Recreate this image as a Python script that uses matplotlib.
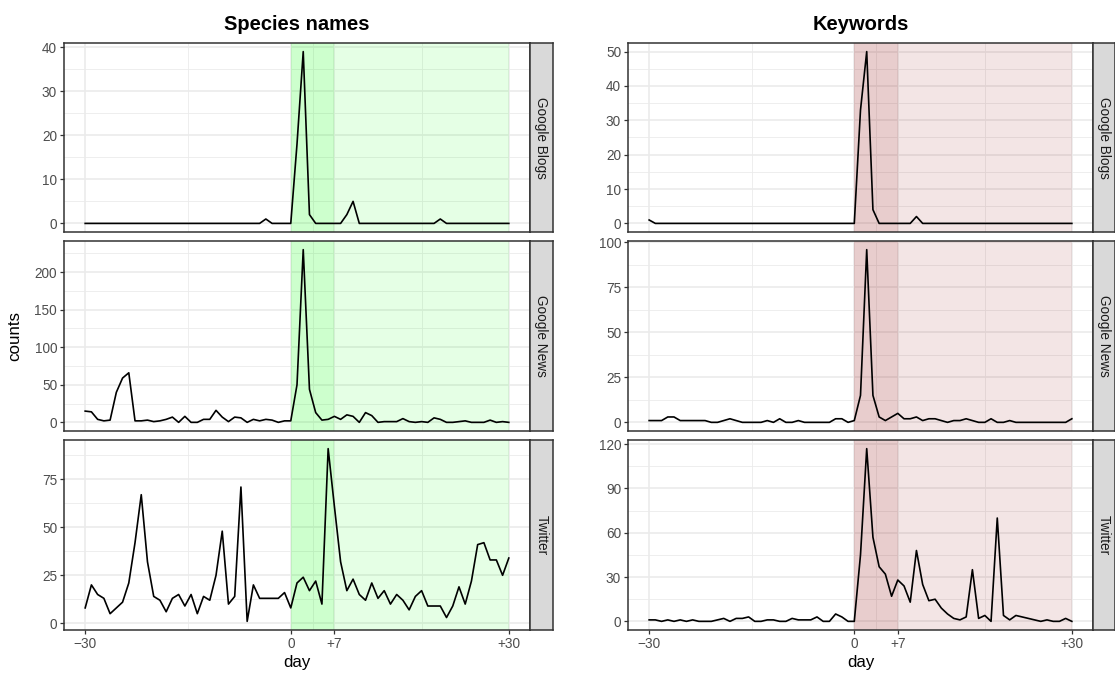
import matplotlib.pyplot as plt
import numpy as np

plt.rcParams['font.family'] = ['Liberation Sans', 'DejaVu Sans']

# daily positions; tick labels follow the original chart
days = list(range(-33, 36))
tick_pos = [-33, 0, 7, 35]
tick_labels = ['\u221230', '0', '+7', '+30']

sources = ['Google Blogs', 'Google News', 'Twitter']

# Species names
sp_blogs = [0, 0, 0, 0, 0, 0, 0, 0, 0, 0,
            0, 0, 0, 0, 0, 0, 0, 0, 0, 0,
            0, 0, 0, 0, 0, 0, 0, 0, 0, 1,
            0, 0, 0, 0, 18, 39, 2, 0, 0, 0,
            0, 0, 2, 5, 0, 0, 0, 0, 0, 0,
            0, 0, 0, 0, 0, 0, 0, 1, 0, 0,
            0, 0, 0, 0, 0, 0, 0, 0, 0]
sp_news = [15, 14, 4, 2, 3, 40, 59, 66, 2, 2,
           3, 1, 2, 4, 7, 0, 8, 0, 0, 4,
           4, 16, 7, 1, 7, 6, 0, 4, 2, 4,
           3, 0, 2, 2, 50, 230, 44, 13, 3, 4,
           8, 4, 10, 8, 0, 13, 9, 0, 1, 1,
           1, 5, 1, 0, 1, 0, 6, 4, 0, 0,
           1, 2, 0, 0, 0, 3, 0, 1, 0]
sp_twitter = [8, 20, 15, 13, 5, 8, 11, 21, 42, 67,
              32, 14, 12, 6, 13, 15, 9, 15, 5, 14,
              12, 25, 48, 10, 14, 71, 1, 20, 13, 13,
              13, 13, 16, 8, 21, 24, 17, 22, 10, 91,
              61, 32, 17, 23, 15, 12, 21, 13, 17, 10,
              15, 12, 7, 14, 17, 9, 9, 9, 3, 9,
              19, 10, 22, 41, 42, 33, 33, 25, 34]

# Keywords
kw_blogs = [1, 0, 0, 0, 0, 0, 0, 0, 0, 0,
            0, 0, 0, 0, 0, 0, 0, 0, 0, 0,
            0, 0, 0, 0, 0, 0, 0, 0, 0, 0,
            0, 0, 0, 0, 33, 50, 4, 0, 0, 0,
            0, 0, 0, 2, 0, 0, 0, 0, 0, 0,
            0, 0, 0, 0, 0, 0, 0, 0, 0, 0,
            0, 0, 0, 0, 0, 0, 0, 0, 0]
kw_news = [1, 1, 1, 3, 3, 1, 1, 1, 1, 1,
           0, 0, 1, 2, 1, 0, 0, 0, 0, 1,
           0, 2, 0, 0, 1, 0, 0, 0, 0, 0,
           2, 2, 0, 1, 15, 96, 15, 3, 1, 3,
           5, 2, 2, 3, 1, 2, 2, 1, 0, 1,
           1, 2, 1, 0, 0, 2, 0, 0, 1, 0,
           0, 0, 0, 0, 0, 0, 0, 0, 2]
kw_twitter = [1, 1, 0, 1, 0, 1, 0, 1, 0, 0,
              0, 1, 2, 0, 2, 2, 3, 0, 0, 1,
              1, 0, 0, 2, 1, 1, 1, 3, 0, 0,
              5, 3, 0, 0, 45, 117, 57, 37, 32, 17,
              28, 24, 13, 48, 25, 14, 15, 9, 5, 2,
              1, 3, 35, 2, 4, 0, 70, 4, 1, 4,
              3, 2, 1, 0, 1, 0, 0, 2, 0]

sp_yticks = [[0, 10, 20, 30, 40], [0, 50, 100, 150, 200], [0, 25, 50, 75]]
kw_yticks = [[0, 10, 20, 30, 40, 50], [0, 25, 50, 75, 100], [0, 30, 60, 90, 120]]

W, H = 1115, 675
fig = plt.figure(figsize=(W / 100, H / 100), dpi=100)


def px_axes(x0, y0, x1, y1):
    return fig.add_axes([x0 / W, 1 - y1 / H, (x1 - x0) / W, (y1 - y0) / H])


rows = [(43, 232), (241, 431), (440, 630)]
cols = [(64, 530, 553, '#00FF00', 'Species names', [sp_blogs, sp_news, sp_twitter], sp_yticks),
        (628, 1093, 1115, '#8B0000', 'Keywords', [kw_blogs, kw_news, kw_twitter], kw_yticks)]

GRID = '#EBEBEB'
DARK = '#333333'

for x0, x1, xs, shade, title, series, yticks in cols:
    for r, (y0, y1) in enumerate(rows):
        ax = px_axes(x0, y0, x1, y1)
        vals = series[r]
        ax.set_axisbelow(True)
        ax.axvspan(0, 35, color=shade, alpha=0.1, lw=0, zorder=1)
        ax.axvspan(0, 7, color=shade, alpha=0.1, lw=0, zorder=1)
        ax.plot(days, vals, color='black', lw=1.2, zorder=3)

        yt = yticks[r]
        step = yt[1] - yt[0]
        ax.set_yticks(yt)
        ax.set_yticks(np.arange(yt[0] - step / 2, yt[-1] + step, step), minor=True)
        ax.set_xticks(tick_pos)
        ax.set_xticks([-16.5, 3.5, 21], minor=True)

        # ggplot-style 5% expansion, set after the ticks
        lo, hi = min(vals), max(vals)
        pad = 0.05 * (hi - lo)
        ax.set_ylim(lo - pad, hi + pad)
        ax.set_xlim(-33 - 3.4, 35 + 3.4)

        ax.grid(which='major', color=GRID, lw=1.2)
        ax.grid(which='minor', color=GRID, lw=0.6)
        ax.tick_params(which='minor', length=0)
        ax.tick_params(which='major', length=3, width=0.9, color=DARK,
                       labelcolor='#4D4D4D', labelsize=9.8, pad=2)
        if r < 2:
            ax.tick_params(axis='x', which='major', length=0, labelbottom=False)
        else:
            ax.set_xticklabels(tick_labels)
        for sp in ax.spines.values():
            sp.set_color(DARK)
            sp.set_linewidth(1.1)

        # facet strip
        st = px_axes(x1, y0, xs, y1)
        st.set_facecolor('#D9D9D9')
        st.set_xticks([])
        st.set_yticks([])
        for sp in st.spines.values():
            sp.set_color(DARK)
            sp.set_linewidth(1.1)
        st.text(0.5, 0.5, sources[r], rotation=270, ha='center', va='center',
                color='#1A1A1A', fontsize=9.8, transform=st.transAxes)

    xc = (x0 + x1) / 2
    fig.text(xc / W, 1 - 25 / H, title, ha='center', va='center',
             fontsize=14.5, fontweight='bold')
    fig.text(xc / W, 1 - 662 / H, 'day', ha='center', va='center', fontsize=12.2)

fig.text(15 / W, 1 - 336 / H, 'counts', rotation=90, ha='center', va='center',
         fontsize=12.2)

fig.savefig('out.png', dpi=100)
